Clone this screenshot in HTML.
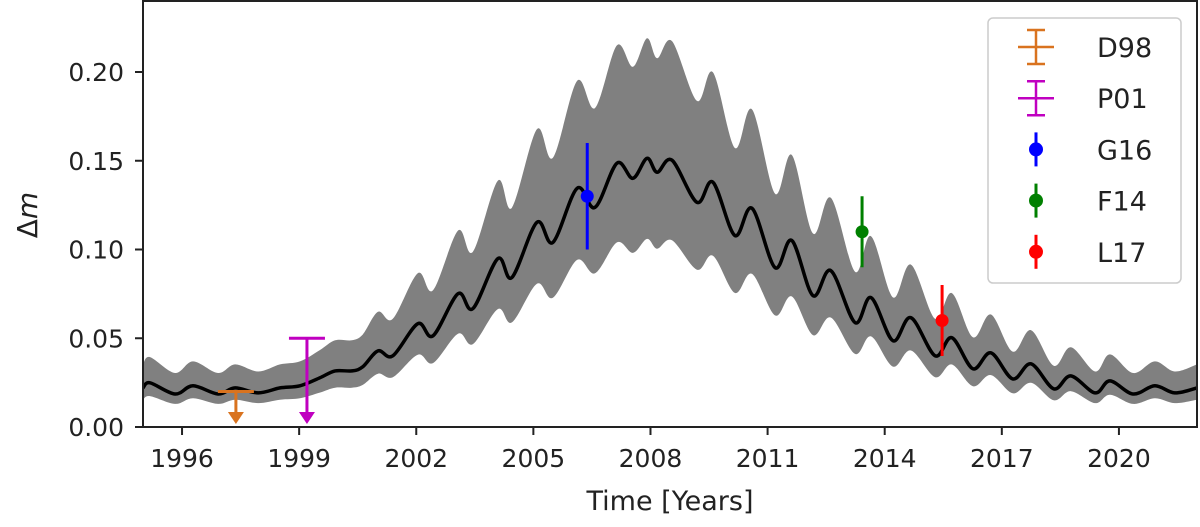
<!DOCTYPE html>
<html><head><meta charset="utf-8"><style>
body{margin:0;background:#fff;}
svg{display:block;font-family:"DejaVu Sans","Liberation Sans",sans-serif;}
</style></head><body>
<svg id="chart" width="1200" height="527" viewBox="0 0 1200 527">
<g id="band"></g>
<g id="line"></g>
<g id="axes"></g>
<g id="points"></g>
<g id="legend"></g>
</svg>
<script>
const years=[1995.00,1995.18,1995.82,1996.28,1996.92,1997.36,1997.95,1998.51,1999.02,1999.53,1999.92,2000.35,2000.63,2001.02,2001.40,2002.04,2002.43,2003.07,2003.45,2004.09,2004.45,2005.09,2005.50,2006.12,2006.58,2007.14,2007.55,2007.91,2008.17,2008.55,2009.19,2009.60,2010.16,2010.60,2011.19,2011.62,2012.16,2012.62,2013.24,2013.65,2014.21,2014.67,2015.29,2015.72,2016.26,2016.72,2017.28,2017.75,2018.33,2018.77,2019.39,2019.77,2020.36,2020.92,2021.43,2022.00];
const meanVals=[0.0220,0.0249,0.0186,0.0232,0.0186,0.0220,0.0192,0.0220,0.0232,0.0277,0.0316,0.0316,0.0339,0.0429,0.0401,0.0582,0.0514,0.0751,0.0667,0.0949,0.0842,0.1153,0.1040,0.1345,0.1237,0.1486,0.1401,0.1514,0.1435,0.1503,0.1266,0.1379,0.1079,0.1232,0.0898,0.1051,0.0740,0.0881,0.0588,0.0729,0.0486,0.0616,0.0401,0.0503,0.0328,0.0418,0.0271,0.0356,0.0215,0.0288,0.0192,0.0260,0.0186,0.0232,0.0192,0.0220];
const bandUpFactor=1.42, bandUpOffset=0.004, bandLoFactor=0.70;
const xTicks=[1996,1999,2002,2005,2008,2011,2014,2017,2020];
const yTicks=[0.00,0.05,0.10,0.15,0.20];
const yTickLabels=["0.00","0.05","0.10","0.15","0.20"];
const limNames=["D98","P01"];
const limYears=[1997.38,1999.2];
const limVals=[0.02,0.05];
const limColors=["#d9731f","#c000c0"];
const ptNames=["G16","F14","L17"];
const ptYears=[2006.38,2013.42,2015.47];
const ptVals=[0.13,0.11,0.06];
const ptErrs=[0.03,0.02,0.02];
const ptColors=["#0000ff","#008000","#ff0000"];

const L=143,R=1197,T=1,B=427;
const X0=1995,X1=2022,Y0=0,Y1=0.2400;
const sx=v=>L+(v-X0)/(X1-X0)*(R-L);
const sy=v=>B-(v-Y0)/(Y1-Y0)*(B-T);
const NS="http://www.w3.org/2000/svg";
function mk(tag,attrs,parent){const e=document.createElementNS(NS,tag);for(const k in attrs)e.setAttribute(k,attrs[k]);parent.appendChild(e);return e;}
function smooth(pts){let d="M"+pts[0][0].toFixed(1)+","+pts[0][1].toFixed(1);
 for(let i=0;i<pts.length-1;i++){const p0=pts[Math.max(0,i-1)],p1=pts[i],p2=pts[i+1],p3=pts[Math.min(pts.length-1,i+2)];
 const c1=[p1[0]+(p2[0]-p0[0])/6,p1[1]+(p2[1]-p0[1])/6],c2=[p2[0]-(p3[0]-p1[0])/6,p2[1]-(p3[1]-p1[1])/6];
 d+=" C"+c1.map(v=>v.toFixed(1))+" "+c2.map(v=>v.toFixed(1))+" "+p2.map(v=>v.toFixed(1));}
 return d;}
const svg=document.getElementById('chart');
// clip
const defs=mk('defs',{},svg);const cp=mk('clipPath',{id:'clip'},defs);mk('rect',{x:L,y:T,width:R-L,height:B-T},cp);
// band
const up=years.map((y,i)=>[sx(y),sy(meanVals[i]*bandUpFactor+bandUpOffset)]);
const lo=years.map((y,i)=>[sx(y),sy(meanVals[i]*bandLoFactor)]).reverse();
const bandD=smooth(up)+" L"+lo[0][0].toFixed(1)+","+lo[0][1].toFixed(1)+smooth(lo).replace(/^M[^ C]+/,"")+" Z";
const band=mk('path',{d:bandD,fill:'#808080','clip-path':'url(#clip)'},document.getElementById('band'));


// line
const ln=mk('path',{d:smooth(years.map((y,i)=>[sx(y),sy(meanVals[i])])),fill:'none',stroke:'#000','stroke-width':3.5,'clip-path':'url(#clip)'},document.getElementById('line'));


// axes
const ax=document.getElementById('axes');
const frame=mk('rect',{x:L,y:T,width:R-L,height:B-T,fill:'none',stroke:'#222','stroke-width':2},ax);


xTicks.forEach(t=>{const x=sx(t);mk('line',{x1:x,x2:x,y1:B,y2:B+8,stroke:'#222','stroke-width':2},ax);
 const tx=mk('text',{x:x,y:467,'text-anchor':'middle','font-size':25,fill:'#222'},ax);tx.textContent=t;
 
 });
yTicks.forEach((t,i)=>{const y=sy(t);mk('line',{x1:L-8,x2:L,y1:y,y2:y,stroke:'#222','stroke-width':2},ax);
 const tx=mk('text',{x:124,y:y+9,'text-anchor':'end','font-size':25,fill:'#222'},ax);tx.textContent=yTickLabels[i];
 
 });
const xt=mk('text',{x:670,y:510,'text-anchor':'middle','font-size':27,fill:'#222'},ax);xt.textContent="Time [Years]";


const yt=mk('text',{x:0,y:0,'text-anchor':'middle','font-size':28,fill:'#222',transform:'translate(37,215) rotate(-90)'},ax);
yt.innerHTML='Δ<tspan font-style="italic">m</tspan>';


// upper limits
const P=document.getElementById('points');
limYears.forEach((yr,i)=>{const g=mk('g',{},P);
 
 
 const x=sx(yr),y=sy(limVals[i]),c=limColors[i];
 mk('line',{x1:x-18,x2:x+18,y1:y,y2:y,stroke:c,'stroke-width':3},g);
 mk('line',{x1:x,x2:x,y1:y,y2:B-14,stroke:c,'stroke-width':3},g);
 mk('polygon',{points:`${x-8},${B-15} ${x+8},${B-15} ${x},${B-3}`,fill:c},g);});
// points
ptYears.forEach((yr,i)=>{const g=mk('g',{},P);
 
 
 const x=sx(yr),c=ptColors[i];
 mk('line',{x1:x,x2:x,y1:sy(ptVals[i]+ptErrs[i]),y2:sy(ptVals[i]-ptErrs[i]),stroke:c,'stroke-width':3},g);
 mk('circle',{cx:x,cy:sy(ptVals[i]),r:6.5,fill:c},g);});
// legend
const LG=document.getElementById('legend');
mk('rect',{x:988,y:18,width:193,height:265,rx:5,fill:'#fff','fill-opacity':0.85,stroke:'#ccc','stroke-width':1.5},LG);
const names=limNames.concat(ptNames),cols=limColors.concat(ptColors);
names.forEach((n,i)=>{const y=47+i*51.2,x=1036,c=cols[i];
 const g=mk('g',{},LG);
 
 
 if(i<2){mk('line',{x1:x,x2:x,y1:y-17,y2:y+17,stroke:c,'stroke-width':2.5},g);
  mk('line',{x1:x-9,x2:x+9,y1:y-17,y2:y-17,stroke:c,'stroke-width':2.5},g);
  mk('line',{x1:x-9,x2:x+9,y1:y+17,y2:y+17,stroke:c,'stroke-width':2.5},g);
  mk('line',{x1:x-18,x2:x+18,y1:y,y2:y,stroke:c,'stroke-width':2.5},g);}
 else{mk('line',{x1:x,x2:x,y1:y-17,y2:y+17,stroke:c,'stroke-width':3},g);
  mk('circle',{cx:x,cy:y,r:7,fill:c},g);}
 const t=mk('text',{x:1097,y:y+10,'font-size':27,fill:'#222'},g);t.textContent=n;});
</script>
</body></html>
